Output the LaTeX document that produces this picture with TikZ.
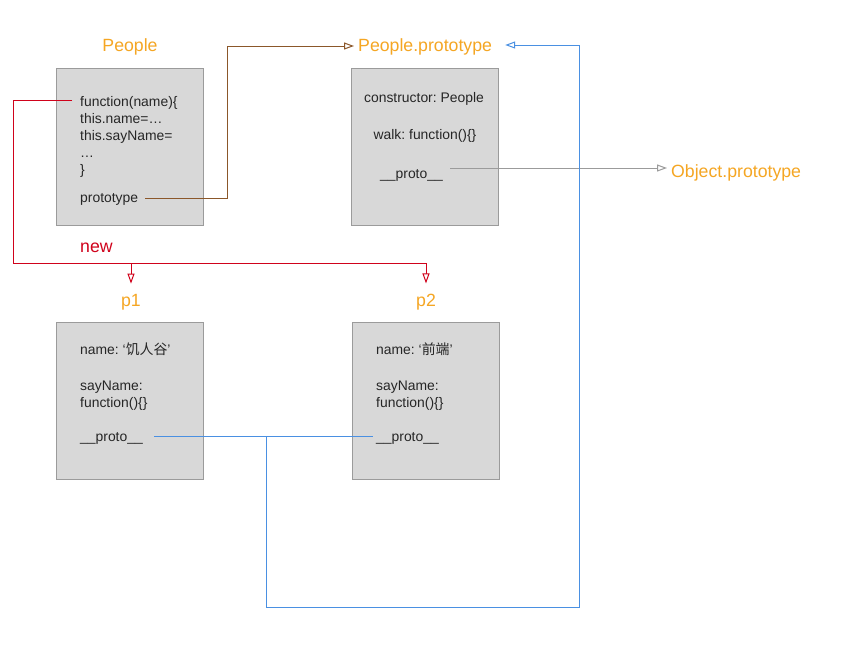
\documentclass[tikz,border=0pt]{standalone}
\usepackage{fontspec}
\setmainfont{Liberation Sans}
\newfontfamily\cjk{Noto Sans CJK SC}
\usetikzlibrary{arrows.meta}
\frenchspacing
\definecolor{lblorange}{HTML}{F5A623}
\definecolor{linered}{HTML}{D0021B}
\definecolor{lineblue}{HTML}{4A90E2}
\definecolor{linebrown}{HTML}{8B572A}
\definecolor{linegrey}{HTML}{9B9B9B}
\definecolor{boxfill}{HTML}{D8D8D8}
\definecolor{boxdraw}{HTML}{9B9B9B}
\tikzset{
  objbox/.style={draw=boxdraw, fill=boxfill, line width=1pt, minimum width=147pt, minimum height=157pt, inner sep=0pt},
  bodytxt/.style={font=\fontsize{13.9}{17}\selectfont, text=black!85, inner sep=0pt, anchor=base west},
  titletxt/.style={font=\fontsize{17.7}{20}\selectfont, text=lblorange, inner sep=0pt, anchor=base},
  conn/.style={line width=1pt},
  opentip/.style={-{Triangle[open, length=10pt, width=7pt, fill=white]}}
}
\begin{document}
\begin{tikzpicture}[x=1pt, y=-1pt]
\useasboundingbox[fill=white] (0,0) rectangle (863,645);

% boxes
\node[objbox] (peoplebox) at (130,146.5) {};
\node[objbox] (protobox) at (425,146.5) {};
\node[objbox] (p1box) at (130,400.5) {};
\node[objbox] (p2box) at (426,400.5) {};

% titles
\node[titletxt] (peoplelbl) at (130,51) {People};
\node[titletxt, anchor=base west] (pplbl) at (358,51) {People.prototype};
\node[titletxt, anchor=base west] (objlbl) at (671,177) {Object.prototype};
\node[titletxt] (p1lbl) at (131,306) {p1};
\node[titletxt] (p2lbl) at (426,306) {p2};
\node[titletxt, text=linered, anchor=base west] (newlbl) at (80,252) {new};

% People box text
\node[bodytxt] (fn) at (80,106) {function(name)\{};
\node[bodytxt] (l2) at (80,123) {this.name=…};
\node[bodytxt] (l3) at (80,140) {this.sayName=};
\node[bodytxt] (l4) at (80,157) {…};
\node[bodytxt] (l5) at (80,174) {\}};
\node[bodytxt] (protoprop) at (80,202) {prototype};

% People.prototype text
\node[bodytxt, anchor=base] (ctor) at (424,102) {constructor: People};
\node[bodytxt, anchor=base] (walk) at (425,139) {walk: function()\{\}};
\node[bodytxt] (pproto) at (380,178) {\_\_proto\_\_};

% p1 text
\node[bodytxt] (p1name) at (80,354) {name: ‘{\cjk 饥人谷}’};
\node[bodytxt] (p1say) at (80,390) {sayName:};
\node[bodytxt] (p1fn) at (80,407) {function()\{\}};
\node[bodytxt] (p1proto) at (80,441) {\_\_proto\_\_};

% p2 text
\node[bodytxt] (p2name) at (376,354) {name: ‘{\cjk 前端}’};
\node[bodytxt] (p2say) at (376,390) {sayName:};
\node[bodytxt] (p2fn) at (376,407) {function()\{\}};
\node[bodytxt] (p2proto) at (376,441) {\_\_proto\_\_};

% brown: prototype -> People.prototype
\draw[conn, linebrown, opentip]
  ([xshift=7pt]protoprop.east |- 0,198) -- (227,198) |- ([xshift=-4pt]pplbl.west |- 0,46);

% red: function -> p1, p2
\coordinate (redturn) at (13,263);
\coordinate (p1drop) at (131,263);
\draw[conn, linered] ([xshift=-8pt]fn.west |- 0,100) -| (redturn) -- (426,263);
\draw[conn, linered, opentip] (p1drop) -- ([yshift=10pt]p1lbl.north);
\draw[conn, linered, opentip] (426,263) -- ([yshift=10pt]p2lbl.north);

% grey: People.prototype __proto__ -> Object.prototype
\draw[conn, linegrey, opentip] ([xshift=7pt]pproto.east |- 0,168) -- ([xshift=-4pt]objlbl.west |- 0,168);

% blue: p1/p2 __proto__ -> People.prototype
\coordinate (bluejoin) at (266,436);
\draw[conn, lineblue] ([xshift=11pt]p1proto.east |- 0,436) -- ([xshift=-3pt]p2proto.west |- 0,436);
\draw[conn, lineblue, opentip] (bluejoin) -- (266,607) -- (579,607) -- (579,45) -- ([xshift=13pt]pplbl.east |- 0,45);
\end{tikzpicture}
\end{document}
